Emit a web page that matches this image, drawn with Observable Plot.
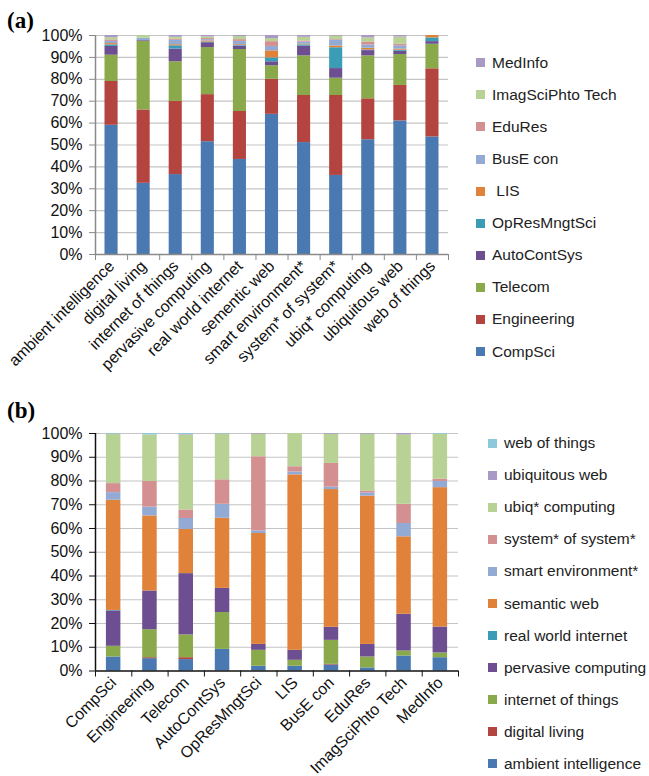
<!DOCTYPE html>
<html>
<head>
<meta charset="utf-8">
<script src="https://cdn.jsdelivr.net/npm/d3@7"></script>
<script src="https://cdn.jsdelivr.net/npm/@observablehq/plot@0.6"></script>
<style>
  html, body { margin: 0; padding: 0; background: #fff; overflow: hidden; }
  #wrap { position: relative; width: 649px; height: 776px; font-family: "Liberation Sans", Arial, sans-serif; }
  .panel { position: absolute; left: 0; }
  .title { position: absolute; font-family: "Liberation Serif", "Times New Roman", serif; font-weight: bold; font-size: 23px; }
  .legend { position: absolute; font-size: 15.5px; color: #222; }
  .legend .row { height: 32.1px; display: flex; align-items: center; white-space: pre; }
  .legend .sw { width: 9px; height: 9px; margin-right: 7px; flex: none; }
</style>
</head>
<body>
<div id="wrap"></div>
<script>
// ---------- Panel (a) ----------
const catsA = ["ambient intelligence", "digital living", "internet of things", "pervasive computing",
  "real world internet", "sementic web", "smart environment*", "system* of system*",
  "ubiq* computing", "ubiquitous web", "web of things"];
const seriesA = ["CompSci", "Engineering", "Telecom", "AutoContSys", "OpResMngtSci", "LIS",
  "BusE con", "EduRes", "ImagSciPhto Tech", "MedInfo"];
const legendA = ["MedInfo", "ImagSciPhto Tech", "EduRes", "BusE con", " LIS", "OpResMngtSci",
  "AutoContSys", "Telecom", "Engineering", "CompSci"];
const colorsA = ["#4a78b0", "#b3443f", "#89a94a", "#6d4f91", "#3b9db5", "#e0823a",
  "#92aad4", "#d48f90", "#b8d194", "#a899c5"];
// values per category, in series order (percent)
const CompSciA      = [59,   32.5, 36.5, 51.5, 43.4, 64,  51.1, 36.1, 52.4, 61,   53.7];
const EngineeringA  = [20,   33.5, 33.4, 21.5, 21.9, 16,  21.5, 36.5, 18.7, 16.2, 31.1];
const TelecomA      = [12,   31.4, 18.1, 21.5, 28.3, 6.2, 18.1, 7.9,  19.6, 14.1, 11.2];
const AutoContSysA  = [4,    0.3,  5.8,  2.2,  1.5,  1.8, 4.4,  4.4,  2.4,  1.5,  1.2];
const OpResA        = [0.7,  0,    1.5,  0.3,  0.3,  1.8, 0.6,  9.5,  0.3,  0.5,  1.7];
const LISA          = [0.6,  0,    0.5,  0.5,  0.4,  3.2, 0.3,  0.8,  0.8,  0.5,  1.1];
const BusEconA      = [1,    1.1,  2,    0.6,  1.5,  2,   1,    2.7,  1.5,  1.5,  0];
const EduResA       = [0.7,  0,    0.5,  0.5,  0.8,  2.2, 0.5,  0.3,  1.2,  0.8,  0];
const ImagSciA      = [1,    1.2,  0.9,  0.8,  1.4,  1.4, 1.7,  1.5,  2,    3.2,  0];
const MedInfoA      = [1,    0,    0.8,  0.6,  0.5,  1.4, 0.8,  0.3,  1.1,  0.7,  0];
const valuesA = [CompSciA, EngineeringA, TelecomA, AutoContSysA, OpResA, LISA, BusEconA, EduResA, ImagSciA, MedInfoA];

// ---------- Panel (b) ----------
const catsB = ["CompSci", "Engineering", "Telecom", "AutoContSys", "OpResMngtSci", "LIS",
  "BusE con", "EduRes", "ImagSciPhto Tech", "MedInfo"];
const seriesB = ["ambient intelligence", "digital living", "internet of things", "pervasive computing",
  "real world internet", "semantic web", "smart environment*", "system* of system*",
  "ubiq* computing", "ubiquitous web", "web of things"];
const colorsB = ["#4a78b0", "#b3443f", "#89a94a", "#6d4f91", "#3b9db5", "#e0823a",
  "#92aad4", "#d48f90", "#b8d194", "#a899c5", "#8ec8dc"];
const ambientB   = [5.9,  5.2,  4.8,  9.1,  2,    2,    2.5,  1.3,  6.3,  5.6];
const digitalB   = [0,    0.4,  0.8,  0,    0,    0,    0.3,  0,    0,    0];
const iotB       = [4.5,  11.8, 9.6,  15.5, 6.7,  2.5,  10.1, 4.6,  2.1,  2];
const pervasiveB = [14.9, 16.3, 25.8, 10.2, 2.5,  4.2,  5.5,  5.3,  15.5, 10.9];
const realWorldB = [0.2,  0,    0,    0,    0,    0,    0,    0,    0,    0];
const semanticB  = [46.4, 31.6, 18.6, 29.5, 46.7, 73.9, 58,   62.4, 32.6, 58.7];
const smartEnvB  = [3.2,  3.7,  4.6,  5.9,  1.1,  1.2,  1,    1.4,  5.6,  2.6];
const sysB       = [3.8,  10.8, 3.6,  10.3, 31.2, 2.2,  10,   0.8,  8.1,  1];
const ubiqB      = [20.7, 19.6, 31.6, 19.2, 9.5,  14,   12.3, 23.9, 29.2, 18.9];
const ubiqWebB   = [0.1,  0,    0.2,  0.1,  0.3,  0,    0.3,  0.3,  0.6,  0];
const wotB       = [0.3,  0.6,  0.4,  0.2,  0,    0,    0,    0,    0,    0.3];
const valuesB = [ambientB, digitalB, iotB, pervasiveB, realWorldB, semanticB, smartEnvB, sysB, ubiqB, ubiqWebB, wotB];

const yTicks = [0, 10, 20, 30, 40, 50, 60, 70, 80, 90, 100];

function rowsOf(cats, series, values) {
  const rows = [];
  cats.forEach((c, i) => series.forEach((s, k) => rows.push({i, cat: c, series: s, value: values[k][i]})));
  return rows;
}

function panel(cats, series, colors, values, o) {
  const rows = rowsOf(cats, series, values);
  const n = cats.length;
  return Plot.plot({
    width: 649, height: o.height,
    marginLeft: 95, marginRight: o.marginRight, marginTop: o.marginTop, marginBottom: o.marginBottom,
    style: {fontFamily: "Liberation Sans, Arial, sans-serif", fontSize: "16px", color: "#111", background: "transparent", overflow: "visible"},
    x: {type: "linear", domain: [0, n], axis: null, label: null},
    y: {domain: [0, 100], axis: null, label: null},
    color: {domain: series, range: colors},
    marks: [
      Plot.ruleY(yTicks.slice(1), {stroke: "#c4c4c4", strokeWidth: 1.2}),
      Plot.rectY(rows, {x: "i", interval: 1, y: "value", fill: "series", insetLeft: o.inset, insetRight: o.inset}),
      Plot.ruleY([0], {stroke: o.axisColor, strokeWidth: 1.5}),
      Plot.ruleX([0], {stroke: o.axisColor, strokeWidth: 1.5}),
      Plot.axisY({ticks: yTicks, tickFormat: d => d + "%", tickSize: 6, tickPadding: 7, stroke: o.axisColor, fill: "#111", label: null}),
      Plot.axisX({ticks: d3.range(n + 1), tickFormat: () => "", tickSize: 6, stroke: o.axisColor, label: null}),
      Plot.axisX({ticks: d3.range(n).map(i => i + 0.5), tickFormat: d => cats[Math.floor(d)], tickSize: 0, tickPadding: 9, tickRotate: -45, fill: "#111", label: null})
    ]
  });
}

const wrap = document.getElementById("wrap");

const svgA = panel(catsA, seriesA, colorsA, valuesA, {height: 390, marginRight: 201, marginTop: 35, marginBottom: 136, inset: 9.5, axisColor: "#8a8a8a"});
svgA.classList.add("panel"); svgA.style.top = "0px";
wrap.appendChild(svgA);

const svgB = panel(catsB, seriesB, colorsB, valuesB, {height: 386, marginRight: 191, marginTop: 43, marginBottom: 105.5, inset: 10.9, axisColor: "#111"});
svgB.classList.add("panel"); svgB.style.top = "390px";
wrap.appendChild(svgB);

function title(txt, left, top) {
  const d = document.createElement("div");
  d.className = "title"; d.textContent = txt;
  d.style.left = left + "px"; d.style.top = top + "px";
  wrap.appendChild(d);
}
title("(a)", 7, 8);
title("(b)", 7, 398);

function legend(labels, colorFor, left, top) {
  const d = document.createElement("div");
  d.className = "legend"; d.style.left = left + "px"; d.style.top = top + "px";
  labels.forEach(l => {
    const r = document.createElement("div"); r.className = "row";
    const s = document.createElement("span"); s.className = "sw"; s.style.background = colorFor(l);
    const t = document.createElement("span"); t.textContent = l;
    r.appendChild(s); r.appendChild(t); d.appendChild(r);
  });
  wrap.appendChild(d);
}
const colA = d3.scaleOrdinal(seriesA, colorsA);
legend(legendA, l => colA(l.trim()), 476, 62.7 - 16);
const colB = d3.scaleOrdinal(seriesB, colorsB);
legend(seriesB.slice().reverse(), l => colB(l), 488, 443 - 16);
</script>
</body>
</html>
